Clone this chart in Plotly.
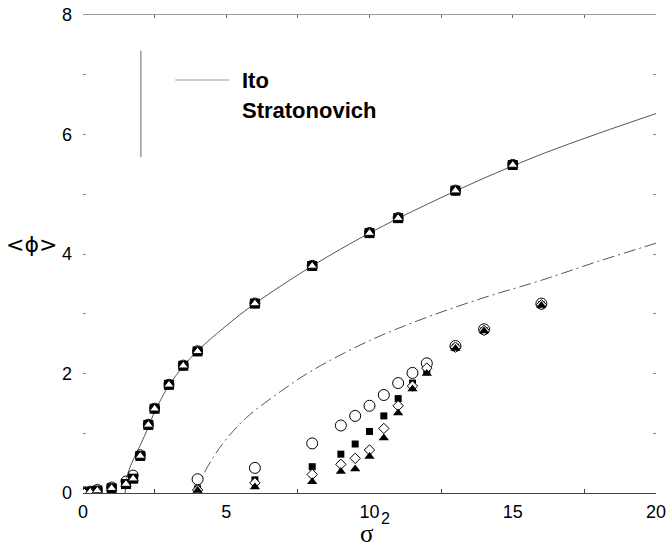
import plotly.graph_objects as go

# ---- theory curves ----
ito_curve_x = [1.47, 1.55, 1.7, 2.0, 2.28, 2.5, 3.0, 3.5, 4.0, 5.0, 6.0, 8.0, 10.0, 12.0, 14.0, 16.0, 18.0, 20.0]
ito_curve_y = [0.0, 0.3, 0.5, 0.8, 1.1, 1.36, 1.8, 2.12, 2.38, 2.8, 3.17, 3.8, 4.35, 4.83, 5.27, 5.67, 6.02, 6.35]

strat_curve_x = [4.0, 4.2, 4.55, 5.0, 5.7, 6.9, 8.0, 10.0, 12.0, 14.0, 16.0, 18.0, 20.0]
strat_curve_y = [0.0, 0.3, 0.6, 0.9, 1.26, 1.7, 2.05, 2.55, 2.94, 3.27, 3.56, 3.88, 4.18]

# ---- simulation points, Ito ----
ito_x = [0.05, 0.25, 0.5, 1.0, 1.5, 1.75, 2.0, 2.28, 2.5, 3.0, 3.5, 4.0, 6.0, 8.0, 10.0, 11.0, 13.0, 15.0]
ito_circ = [0.02, 0.03, 0.06, 0.1, 0.2, 0.3, 0.64, 1.15, 1.42, 1.82, 2.14, 2.38, 3.18, 3.81, 4.36, 4.61, 5.07, 5.5]
ito_sq = [0.01, 0.02, 0.04, 0.08, 0.15, 0.24, 0.62, 1.14, 1.41, 1.81, 2.13, 2.37, 3.17, 3.80, 4.35, 4.60, 5.06, 5.49]
ito_tri = [0.01, 0.02, 0.04, 0.08, 0.15, 0.24, 0.62, 1.14, 1.41, 1.81, 2.13, 2.37, 3.17, 3.80, 4.35, 4.60, 5.06, 5.49]

# ---- simulation points, Stratonovich ----
str_x = [4.0, 6.0, 8.0, 9.0, 9.5, 10.0, 10.5, 11.0, 11.5, 12.0, 13.0, 14.0, 16.0]
str_circ = [0.23, 0.42, 0.83, 1.13, 1.29, 1.46, 1.64, 1.84, 2.01, 2.17, 2.46, 2.74, 3.17]
str_sq = [0.07, 0.22, 0.44, 0.65, 0.82, 1.03, 1.29, 1.58, 1.84, 2.03, 2.44, 2.72, 3.15]
str_dia = [0.05, 0.17, 0.31, 0.48, 0.58, 0.72, 1.08, 1.46, 1.79, 2.09, 2.44, 2.72, 3.15]
str_tri = [0.04, 0.1, 0.19, 0.36, 0.4, 0.61, 0.92, 1.34, 1.74, 2.0, 2.42, 2.71, 3.14]

x_ticks = [0, 5, 10, 15, 20]
y_ticks = [0, 2, 4, 6, 8]

fig = go.Figure()

fig.add_trace(go.Scatter(x=ito_curve_x, y=ito_curve_y, mode="lines", line=dict(color="#555", width=1, shape="spline"), showlegend=False))
fig.add_trace(go.Scatter(x=strat_curve_x, y=strat_curve_y, mode="lines", line=dict(color="#555", width=1, shape="spline", dash="12px,4px,2px,4px"), showlegend=False))

def pts(x, y, symbol, size, fill, lw=1):
    fig.add_trace(go.Scatter(x=x, y=y, mode="markers", showlegend=False,
                             marker=dict(symbol=symbol, size=size, color=fill,
                                         line=dict(color="black", width=lw))))

# Ito points
pts(ito_x, ito_circ, "circle-open", 10, "black")
pts(ito_x, ito_sq, "square", 10, "black", 0)
pts(ito_x, ito_tri, "triangle-up", 9, "white", 1)

# Stratonovich points
pts(str_x, str_circ, "circle", 11, "white")
pts(str_x, str_sq, "square", 7, "black", 0)
pts(str_x, str_dia, "diamond", 8, "white")
pts(str_x, str_tri, "triangle-up", 9, "black", 0)

fig.add_trace(go.Scatter(x=[0, 20], y=[0, 8], xaxis="x2", yaxis="y2", mode="markers",
                         marker=dict(opacity=0), showlegend=False, hoverinfo="skip"))

fig.update_layout(
    width=667, height=548,
    margin=dict(l=83, r=11, t=15, b=55, autoexpand=False),
    paper_bgcolor="white", plot_bgcolor="white",
    font=dict(family="Liberation Sans, Arial, sans-serif", size=18, color="black"),
    xaxis=dict(range=[0, 20], tickvals=x_ticks, ticktext=[str(v) for v in x_ticks], automargin=False,
               showgrid=False, zeroline=False, showline=True, linecolor="#444", linewidth=1,
               ticks="", ticklabelstandoff=2,
               minor=dict(tickvals=[2.5, 7.5, 12.5, 17.5], ticks="inside", ticklen=4, tickcolor="#444", showgrid=False)),
    yaxis=dict(range=[0, 8], tickvals=y_ticks, ticktext=[str(v) for v in y_ticks], automargin=False,
               showgrid=False, zeroline=False, showline=False,
               ticks="inside", ticklen=3, tickcolor="#888", ticklabelstandoff=10,
               minor=dict(tickvals=[1, 3, 5, 7], ticks="inside", ticklen=3, tickcolor="#888", showgrid=False)),
    xaxis2=dict(range=[0, 20], overlaying="x", side="top", showgrid=False, zeroline=False, automargin=False,
                showline=True, linecolor="#999", linewidth=1, showticklabels=False,
                tickvals=[2.5, 5, 7.5, 10, 12.5, 15, 17.5], ticks="inside", ticklen=3, tickcolor="#666"),
    yaxis2=dict(range=[0, 8], overlaying="y", side="right", showgrid=False, zeroline=False, automargin=False,
                showline=False, showticklabels=False,
                tickvals=[1, 2, 3, 4, 5, 6, 7], ticks="inside", ticklen=3, tickcolor="#888"),
    shapes=[
        dict(type="line", xref="paper", yref="paper", x0=0.101, x1=0.101, y0=0.925, y1=0.703,
             line=dict(color="#999", width=1.5)),
        dict(type="line", xref="paper", yref="paper", x0=0.161, x1=0.255, y0=0.864, y1=0.864,
             line=dict(color="#999", width=1.2)),
    ],
    annotations=[
        dict(text="<b>Ito</b>", xref="paper", yref="paper", x=0.274, y=0.864, xanchor="left", yanchor="middle",
             showarrow=False, font=dict(size=22, family="Liberation Sans, Arial, sans-serif")),
        dict(text="<b>Stratonovich</b>", xref="paper", yref="paper", x=0.274, y=0.801, xanchor="left", yanchor="middle",
             showarrow=False, font=dict(size=22, family="Liberation Sans, Arial, sans-serif")),
        dict(text="<ϕ>", xref="paper", yref="paper", x=-0.09, y=(493 - 244) / 478, xanchor="center", yanchor="middle",
             showarrow=False, font=dict(size=22, family="DejaVu Sans, sans-serif")),
        dict(text="σ", xref="paper", yref="paper", x=(367 - 83) / 573, y=-(533 - 493) / 478, xanchor="center", yanchor="middle",
             showarrow=False, borderpad=0, font=dict(size=25, family="Liberation Serif, Times New Roman, serif")),
        dict(text="2", xref="paper", yref="paper", x=(386 - 83) / 573, y=-(518 - 493) / 478, xanchor="center", yanchor="middle",
             showarrow=False, borderpad=0, font=dict(size=16, family="Liberation Sans, Arial, sans-serif")),
    ],
)

fig.write_html("out.html")
